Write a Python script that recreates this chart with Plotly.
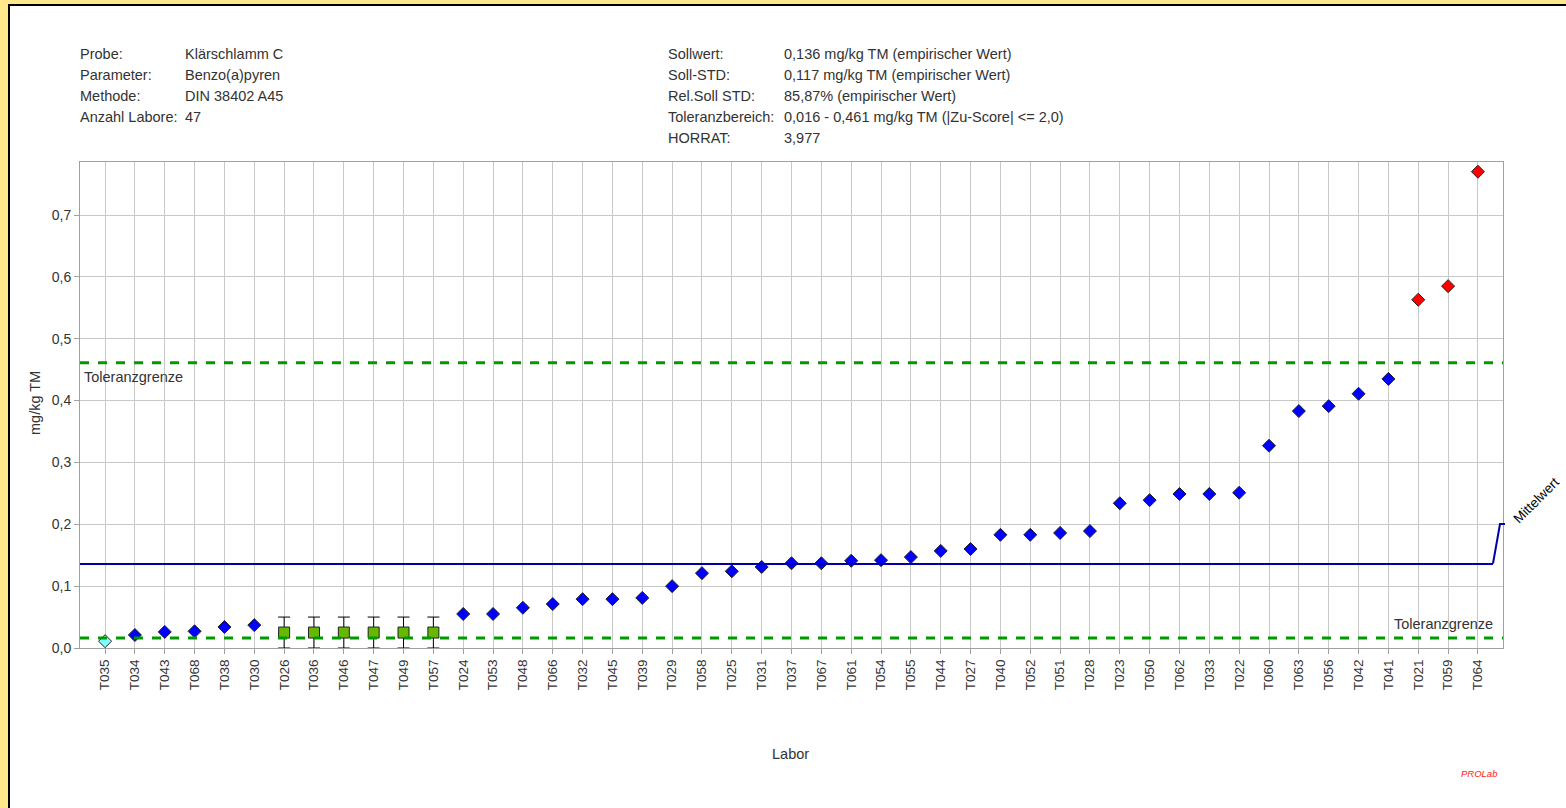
import plotly.graph_objects as go

# Laboratory results, sorted ascending
labs = ["T035", "T034", "T043", "T068", "T038", "T030", "T026", "T036", "T046", "T047",
        "T049", "T057", "T024", "T053", "T048", "T066", "T032", "T045", "T039", "T029",
        "T058", "T025", "T031", "T037", "T067", "T061", "T054", "T055", "T044", "T027",
        "T040", "T052", "T051", "T028", "T023", "T050", "T062", "T033", "T022", "T060",
        "T063", "T056", "T042", "T041", "T021", "T059", "T064"]
values = [0.011, 0.021, 0.026, 0.027, 0.034, 0.037, 0.025, 0.025, 0.025, 0.025,
          0.025, 0.025, 0.055, 0.055, 0.065, 0.071, 0.079, 0.079, 0.081, 0.100,
          0.121, 0.124, 0.131, 0.137, 0.137, 0.141, 0.142, 0.147, 0.157, 0.160,
          0.183, 0.183, 0.186, 0.189, 0.234, 0.239, 0.249, 0.249, 0.251, 0.327,
          0.383, 0.391, 0.411, 0.435, 0.563, 0.585, 0.770]
# group: low = below tolerance, lt = "< BG" result, ok = within tolerance, high = above tolerance
groups = ["low"] + ["ok"] * 5 + ["lt"] * 6 + ["ok"] * 32 + ["high"] * 3
lt_halfrange = 0.025

sollwert = 0.136
tol_low = 0.016
tol_high = 0.461
y_max = 0.7857

header_left = [("Probe:", "Klärschlamm C"), ("Parameter:", "Benzo(a)pyren"),
               ("Methode:", "DIN 38402 A45"), ("Anzahl Labore:", "47")]
header_right = [("Sollwert:", "0,136 mg/kg TM (empirischer Wert)"),
                ("Soll-STD:", "0,117 mg/kg TM (empirischer Wert)"),
                ("Rel.Soll STD:", "85,87% (empirischer Wert)"),
                ("Toleranzbereich:", "0,016 - 0,461 mg/kg TM (|Zu-Score| <= 2,0)"),
                ("HORRAT:", "3,977")]

W, H = 1566, 808
ML, MR, MT, MB = 80, 63, 162, 160
PW, PH = W - ML - MR, H - MT - MB


def px(x):
    return (x - ML) / PW


def py(y):
    return (H - MB - y) / PH


FONT = "Liberation Sans, Arial, sans-serif"
TXT = "#333333"
FS = 14.5

fig = go.Figure()

styles = {
    "low": dict(symbol="diamond", color="#7FFFFF", size=10),
    "ok": dict(symbol="diamond", color="#0000FF", size=10),
    "lt": dict(symbol="square", color="#66B800", size=11),
    "high": dict(symbol="diamond", color="#FF0000", size=10),
}
for g, st in styles.items():
    xs = [l for l, gg in zip(labs, groups) if gg == g]
    ys = [v for v, gg in zip(values, groups) if gg == g]
    err = None
    if g == "lt":
        err = dict(type="constant", value=lt_halfrange, color="#000000", thickness=1, width=6)
    fig.add_trace(go.Scatter(
        x=xs, y=ys, mode="markers", error_y=err,
        marker=dict(symbol=st["symbol"], color=st["color"], size=st["size"],
                    line=dict(color="#202020", width=1)),
        showlegend=False, cliponaxis=False))

shapes = []
# yellow frame strips and black border of the white panel
shapes.append(dict(type="rect", xref="paper", yref="paper", x0=px(0), x1=px(W), y0=py(0), y1=py(4.5),
                   fillcolor="#FFE98C", line=dict(width=0), layer="below"))
shapes.append(dict(type="rect", xref="paper", yref="paper", x0=px(0), x1=px(8), y0=py(0), y1=py(H),
                   fillcolor="#FFE98C", line=dict(width=0), layer="below"))
shapes.append(dict(type="line", xref="paper", yref="paper", x0=px(8), x1=px(W), y0=py(5), y1=py(5),
                   line=dict(color="#000000", width=2)))
shapes.append(dict(type="line", xref="paper", yref="paper", x0=px(9), x1=px(9), y0=py(5), y1=py(H),
                   line=dict(color="#000000", width=2)))
# tolerance limits
for v in (tol_low, tol_high):
    shapes.append(dict(type="line", xref="paper", yref="y", x0=0, x1=1, y0=v, y1=v,
                       line=dict(color="#009900", width=3, dash="dash")))
# assigned value with leader to its label
shapes.append(dict(type="line", xref="paper", yref="y", x0=0, x1=px(1493), y0=sollwert, y1=sollwert,
                   line=dict(color="#0000AA", width=2)))
shapes.append(dict(type="path", xref="paper", yref="paper",
                   path=f"M {px(1493)},{py(563.5)} L {px(1500)},{py(524)} L {px(1505)},{py(524)}",
                   line=dict(color="#0000AA", width=2)))

ann = []
for i, (k, v) in enumerate(header_left):
    yy = 54 + i * 21
    ann.append(dict(x=px(78), y=py(yy), text=k, xanchor="left"))
    ann.append(dict(x=px(183), y=py(yy), text=v, xanchor="left"))
for i, (k, v) in enumerate(header_right):
    yy = 54 + i * 21
    ann.append(dict(x=px(666), y=py(yy), text=k, xanchor="left"))
    ann.append(dict(x=px(782), y=py(yy), text=v, xanchor="left"))
ann.append(dict(x=px(82), y=py(377), text="Toleranzgrenze", xanchor="left"))
ann.append(dict(x=px(1495), y=py(624), text="Toleranzgrenze", xanchor="right"))
ann.append(dict(x=px(790), y=py(754), text="Labor", xanchor="center"))
ann.append(dict(x=px(35), y=py(403), text="mg/kg TM", xanchor="center", textangle=-90))
ann.append(dict(x=px(1536), y=py(500), text="Mittelwert", xanchor="center", textangle=-45,
                font=dict(family=FONT, size=13.5, color="#000000")))
ann.append(dict(x=px(1479), y=py(773), text="<i>PROLab</i>", xanchor="center",
                font=dict(family=FONT, size=9.5, color="#FF2020")))
for a in ann:
    a.setdefault("xref", "paper")
    a.setdefault("yref", "paper")
    a.setdefault("yanchor", "middle")
    a.setdefault("showarrow", False)
    a.setdefault("font", dict(family=FONT, size=FS, color=TXT))

fig.update_layout(
    width=W, height=H,
    margin=dict(l=ML, r=MR, t=MT, b=MB, autoexpand=False),
    paper_bgcolor="#FFFFFF", plot_bgcolor="#FFFFFF",
    separators=",.",
    font=dict(family=FONT, size=13, color=TXT),
    shapes=shapes, annotations=ann,
    xaxis=dict(type="category", categoryorder="array", categoryarray=labs,
               range=[-0.84, len(labs) - 1 + 0.84], tickangle=-90,
               showgrid=True, gridcolor="#C8C8C8", gridwidth=1,
               showline=True, linecolor="#A0A0A0", mirror=True,
               ticks="outside", ticklen=5, tickcolor="#A0A0A0",
               tickfont=dict(family=FONT, size=13.5, color=TXT), zeroline=False),
    yaxis=dict(range=[0, y_max], dtick=0.1, tickformat=".1f",
               showgrid=True, gridcolor="#C8C8C8", gridwidth=1,
               showline=True, linecolor="#A0A0A0", mirror=True,
               ticks="outside", ticklen=5, tickcolor="#A0A0A0",
               tickfont=dict(family=FONT, size=14, color=TXT), zeroline=False),
)

fig.write_html("out.html")
